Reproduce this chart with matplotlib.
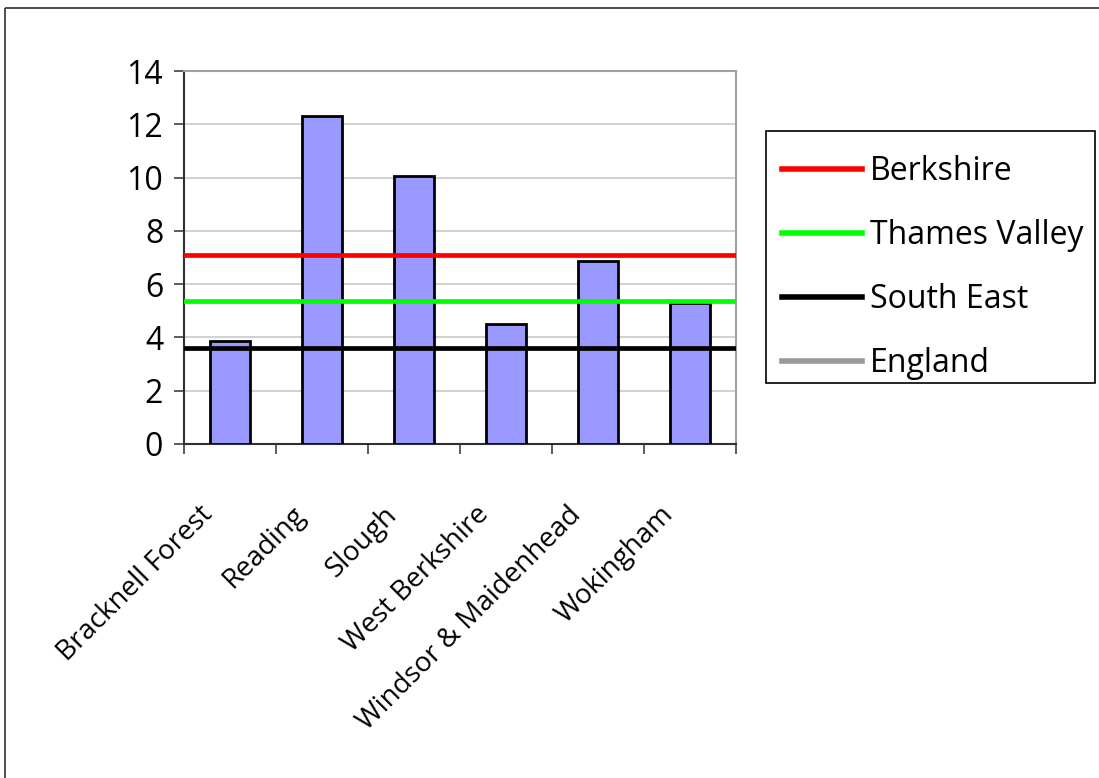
import matplotlib
matplotlib.use("Agg")
import matplotlib.pyplot as plt
from matplotlib.lines import Line2D
from matplotlib.patches import Rectangle
import numpy as np

categories = ["Bracknell Forest", "Reading", "Slough", "West Berkshire",
              "Windsor & Maidenhead", "Wokingham"]
values = [3.85, 12.3, 10.05, 4.5, 6.85, 5.3]
berkshire = 7.1
thames_valley = 5.35
south_east = 3.6
england = np.nan  # not visible in the chart
yticks = [0, 2, 4, 6, 8, 10, 12, 14]

plt.rcParams['font.family'] = ['Open Sans', 'DejaVu Sans']

fig = plt.figure(figsize=(10.99, 7.78), dpi=100)
# outer chart border (left and top visible)
bx, by = 4.5/1099, 1 - 8/778
fig.lines.append(Line2D([bx, bx], [0, by], transform=fig.transFigure,
                        color='#404040', lw=1.3, solid_capstyle='butt'))
fig.lines.append(Line2D([bx, 1.0], [by, by], transform=fig.transFigure,
                        color='#404040', lw=1.3, solid_capstyle='butt'))

ax = fig.add_axes([184/1099, 1 - 444/778, 552/1099, 373/778])
n = len(categories)
x = np.arange(n)
ax.bar(x, values, width=0.44, color='#9999FF', edgecolor='black', linewidth=2, zorder=3)
xlim = (-0.5, n - 0.5)
ax.plot(xlim, [berkshire]*2, color='#FF0000', lw=3.4, label='Berkshire', zorder=4)
ax.plot(xlim, [thames_valley]*2, color='#00FF00', lw=3.4, label='Thames Valley', zorder=4)
ax.plot(xlim, [south_east]*2, color='#000000', lw=3.4, label='South East', zorder=4)
ax.plot(xlim, [england]*2, color='#999999', lw=3.4, label='England', zorder=4)
ax.set_xlim(*xlim)
ax.set_ylim(0, 14)
ax.set_yticks(yticks)
ax.set_yticklabels([str(t) for t in yticks], fontsize=23)
ax.yaxis.grid(True, color='#C8C8C8', lw=1.2, zorder=0)
ax.set_axisbelow(True)
ax.set_xticks(np.arange(-0.5, n, 1.0))
ax.set_xticklabels([])
for i, cat in enumerate(categories):
    ax.annotate(cat, xy=(x[i], 0), xycoords=('data', 'axes fraction'),
                xytext=(-15, -48), textcoords='offset points',
                rotation=45, ha='right', va='center', rotation_mode='anchor',
                fontsize=20, annotation_clip=False)
ax.tick_params(axis='x', which='major', length=7, width=1.2, color='#404040')
ax.tick_params(axis='y', length=7, width=1.2, color='#404040', pad=8)
for s in ['left', 'bottom']:
    ax.spines[s].set_color('#303030')
    ax.spines[s].set_linewidth(1.5)
for s in ['top', 'right']:
    ax.spines[s].set_color('#A0A0A0')
    ax.spines[s].set_linewidth(1.5)

# legend frame drawn separately
fig.patches.append(Rectangle((766/1099, 1 - 383/778), (1095 - 766)/1099, (383 - 131)/778,
                             transform=fig.transFigure, fill=False,
                             edgecolor='black', linewidth=1.2))
leg = fig.legend(loc='upper left', bbox_to_anchor=(766/1099, 1 - 139/778),
                 fontsize=23, frameon=False,
                 handlelength=2.5, handletextpad=0.25, labelspacing=0.97,
                 borderaxespad=0, borderpad=0.5)
for h in leg.get_lines():
    h.set_linewidth(4)

fig.savefig('out.png', dpi=100)
